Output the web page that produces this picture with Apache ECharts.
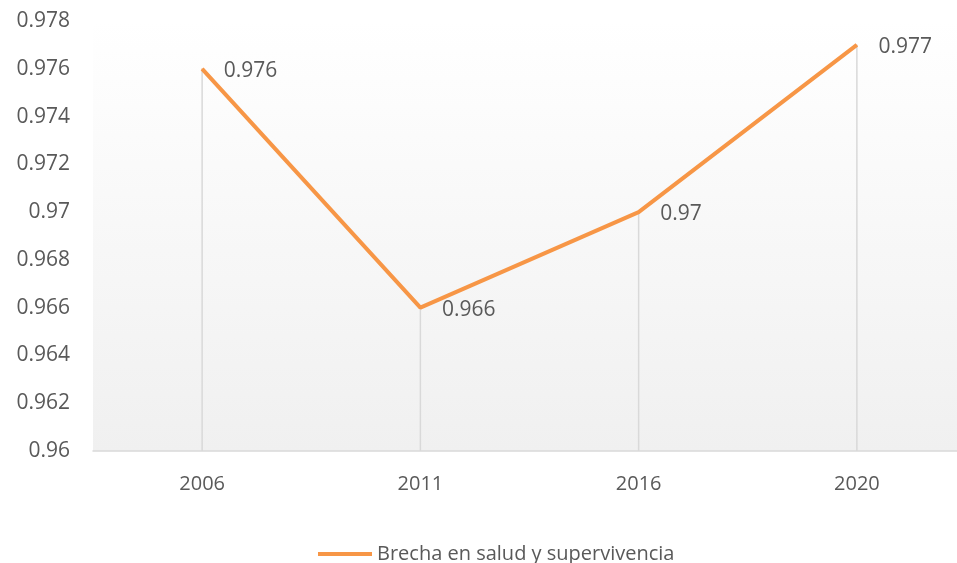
<!DOCTYPE html>
<html><head><meta charset="utf-8">
<script src="https://cdn.jsdelivr.net/npm/echarts@6/dist/echarts.min.js"></script>
<style>html,body{margin:0;padding:0;background:#fff}#c{width:957px;height:563px}</style>
</head><body><div id="c"></div>
<script>
const categories = ['2006', '2011', '2016', '2020'];
const values = [0.976, 0.966, 0.970, 0.977];
const seriesName = 'Brecha en salud y supervivencia';
const yMin = 0.96, yMax = 0.978, yStep = 0.002;

const FONT = '"Open Sans", sans-serif';
const chart = echarts.init(document.getElementById('c'), null, {renderer: 'canvas'});
chart.setOption({
  animation: false,
  backgroundColor: '#fff',
  grid: {
    left: 93, top: 21, width: 873, height: 430,
    outerBoundsMode: 'none', containLabel: false,
    show: true, borderWidth: 0,
    backgroundColor: new echarts.graphic.LinearGradient(0, 0, 0, 1, [
      {offset: 0, color: '#ffffff'}, {offset: 1, color: '#f0f0f0'}
    ])
  },
  legend: {
    data: [{name: seriesName, icon: 'rect'}],
    top: 539, left: 313,
    itemWidth: 54, itemHeight: 4, itemGap: 5,
    textStyle: {fontFamily: FONT, fontSize: 20, color: '#595959'}
  },
  xAxis: {
    type: 'category', data: categories, boundaryGap: true,
    axisLine: {show: true, lineStyle: {color: '#d9d9d9', width: 1.5}},
    axisTick: {show: false},
    axisLabel: {fontFamily: FONT, fontSize: 20, color: '#595959', margin: 23},
    splitLine: {show: false}
  },
  yAxis: {
    type: 'value', min: yMin, max: yMax, interval: yStep,
    axisLine: {show: false}, axisTick: {show: false},
    splitLine: {show: false},
    axisLabel: {fontFamily: FONT, fontSize: 21, color: '#595959', margin: 23,
      formatter: v => String(parseFloat(v.toFixed(3)))}
  },
  series: [
    {
      type: 'bar', name: 'drop', data: values, barWidth: 1.5,
      itemStyle: {color: '#d9d9d9'}, z: 1, silent: true
    },
    {
      type: 'line', name: seriesName, data: values, z: 3,
      symbol: 'circle', symbolSize: 1, showSymbol: true,
      lineStyle: {color: '#f79646', width: 4},
      itemStyle: {color: '#f79646'},
      label: {show: true, position: 'right', distance: 21, offset: [0, 2],
        fontFamily: FONT, fontSize: 21, color: '#595959',
        formatter: p => String(p.value)}
    }
  ]
});
</script></body></html>
